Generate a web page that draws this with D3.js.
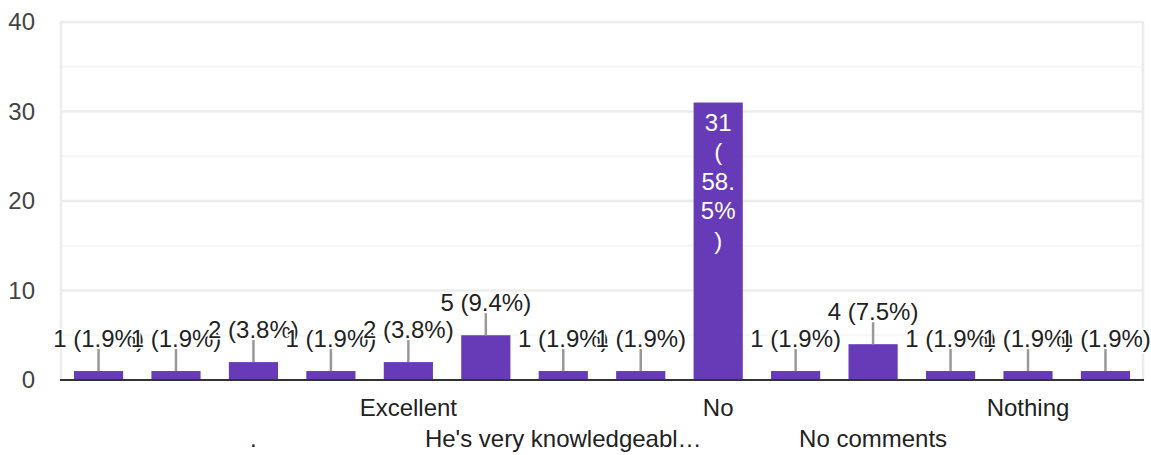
<!DOCTYPE html>
<html><head><meta charset="utf-8">
<script src="https://cdn.jsdelivr.net/npm/d3@7"></script>
<style>
html,body{margin:0;padding:0;background:#fff;}
svg{display:block;font-family:"Liberation Sans",Arial,sans-serif;}
</style></head>
<body><svg id="c" width="1151" height="455"></svg>
<script>
const categories = ["-", "--", ".", "Best", "Excellent", "Good", "He's very knowledgeabl\u2026", "Keep it up", "No", "No comment", "No comments", "None", "Nothing", "Very good"];
const counts = [1, 1, 2, 1, 2, 5, 1, 1, 31, 1, 4, 1, 1, 1];
const yTicks = [0, 10, 20, 30, 40];
const yMinor = [5, 15, 25, 35];
const shownLabels = [2, 4, 6, 8, 10, 12];

(function () {
const total = d3.sum(counts);
const svg = d3.select("#c");
const pL = 60, pR = 1144, pT = 22, pB = 380;
const FS = 24;
const x = d3.scaleBand().domain(categories).range([pL, pR]).paddingInner(0.365).paddingOuter(0.18);
const y = d3.scaleLinear().domain([0, 40]).range([pB, pT]);

svg.append("g").selectAll("line").data(yMinor).join("line")
  .attr("x1", pL).attr("x2", pR).attr("y1", d => y(d)).attr("y2", d => y(d))
  .attr("stroke", "#f6f6f6").attr("stroke-width", 2);
svg.append("g").selectAll("line").data(yTicks.slice(1)).join("line")
  .attr("x1", pL).attr("x2", pR).attr("y1", d => y(d)).attr("y2", d => y(d))
  .attr("stroke", "#ececec").attr("stroke-width", 2.5);
[pL + 1, pR - 1].forEach(xx => svg.append("line")
  .attr("x1", xx).attr("x2", xx).attr("y1", pT).attr("y2", pB)
  .attr("stroke", "#ececec").attr("stroke-width", 2.5));

const yAxis = d3.axisLeft(y).tickValues(yTicks).tickSize(0).tickPadding(0);
const ga = svg.append("g").attr("transform", "translate(35,0)").call(yAxis);
ga.select(".domain").remove();
ga.selectAll("text").attr("font-size", FS).attr("fill", "#444")
  .attr("font-family", "'Liberation Sans',Arial,sans-serif");

svg.append("g").selectAll("rect").data(counts).join("rect")
  .attr("x", (d, i) => x(categories[i])).attr("width", x.bandwidth())
  .attr("y", d => y(d)).attr("height", d => y(0) - y(d))
  .attr("fill", "#673ab7");

svg.append("line").attr("x1", pL).attr("x2", pR).attr("y1", y(0)).attr("y2", y(0))
  .attr("stroke", "#333").attr("stroke-width", 2.2);

const pct = d => `${d} (${(d / total * 100).toFixed(1)}%)`;
counts.forEach((d, i) => {
  const cx = x(categories[i]) + x.bandwidth() / 2;
  if (d >= 20) {
    const p = (d / total * 100).toFixed(1);
    const parts = [String(d), "(", p.slice(0, 3), p.slice(3) + "%", ")"];
    svg.append("text").attr("text-anchor", "middle")
      .attr("font-size", FS).attr("fill", "#fff")
      .selectAll("tspan").data(parts).join("tspan")
      .attr("x", cx).attr("y", (q, k) => y(d) + 28 + k * 29.5).text(q => q);
  } else {
    svg.append("line").attr("x1", cx).attr("x2", cx).attr("y1", y(d)).attr("y2", y(d) - 22)
      .attr("stroke", "#999").attr("stroke-width", 2.5);
    svg.append("text").attr("x", cx).attr("y", y(d) - 24.5).attr("text-anchor", "middle")
      .attr("font-size", FS).attr("fill", "#222")
      .attr("stroke", "#fff").attr("stroke-width", 3).attr("paint-order", "stroke")
      .text(pct(d));
  }
});

svg.append("g").selectAll("text").data(shownLabels).join("text")
  .attr("x", i => x(categories[i]) + x.bandwidth() / 2)
  .attr("y", i => i % 4 === 0 ? 416 : 447)
  .attr("text-anchor", "middle").attr("font-size", FS).attr("fill", "#222")
  .text(i => categories[i]);
})();
</script></body></html>
